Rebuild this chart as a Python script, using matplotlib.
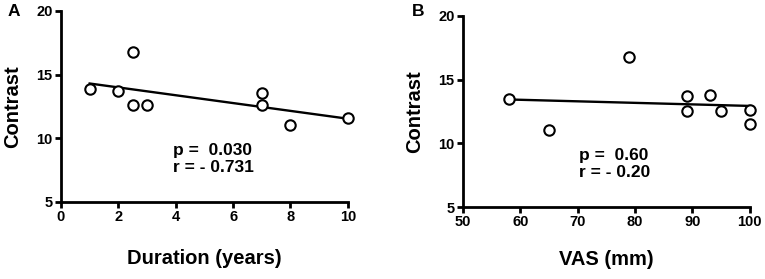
import numpy as np
import matplotlib
matplotlib.use("Agg")
import matplotlib.pyplot as plt

plt.rcParams['font.family'] = ['Liberation Sans', 'DejaVu Sans']
plt.rcParams['font.weight'] = 'bold'

# Panel A data
duration_years = [1, 2, 2.5, 2.5, 3, 7, 7, 8, 10]
contrast_a = [13.84, 13.7, 16.8, 12.58, 12.58, 13.52, 12.6, 11.08, 11.56]
# Panel B data
vas_mm = [58, 65, 79, 89, 89, 93, 95, 100, 100]
contrast_b = [13.46, 11.06, 16.77, 13.68, 12.55, 13.8, 12.55, 12.6, 11.53]

stats_a = "p =  0.030\nr = - 0.731"
stats_b = "p =  0.60\nr = - 0.20"

fig = plt.figure(figsize=(7.65, 2.79), dpi=100)
axA = fig.add_axes([0.0797, 0.276, 0.375, 0.685])
axB = fig.add_axes([0.605, 0.258, 0.375, 0.685])


def style(ax, xlim, xticks):
    ax.set_xlim(*xlim)
    ax.set_ylim(5, 20)
    ax.set_xticks(xticks)
    ax.set_yticks([5, 10, 15, 20])
    for s in ['top', 'right']:
        ax.spines[s].set_visible(False)
    for s in ['left', 'bottom']:
        ax.spines[s].set_linewidth(2.0)
    ax.tick_params(direction='out', length=4, width=2.0, labelsize=10.5, pad=2)
    for lab in ax.get_xticklabels() + ax.get_yticklabels():
        lab.set_fontweight('bold')
    ax.set_ylabel('Contrast', fontsize=14.5, fontweight='bold', labelpad=10)


def panel(ax, x, y, xlim, xticks, xlabel, stats, tx, ty, xpad):
    style(ax, xlim, xticks)
    x = np.array(x, float)
    y = np.array(y, float)
    m, b = np.polyfit(x, y, 1)
    xs = np.array([x.min(), x.max()])
    ax.plot(xs, m * xs + b, color='black', lw=1.7, clip_on=False, zorder=2)
    ax.plot(x, y, 'o', mfc='white', mec='black', ms=7.5, mew=1.5,
            clip_on=False, zorder=3)
    ax.set_xlabel(xlabel, fontsize=14.5, fontweight='bold', labelpad=xpad)
    ax.text(tx, ty, stats, transform=ax.transAxes, fontsize=12.5,
            fontweight='bold', ha='left', va='top', linespacing=1.2)


panel(axA, duration_years, contrast_a, (0, 10), [0, 2, 4, 6, 8, 10],
      'Duration (years)', stats_a, 0.39, 0.31, 18)
panel(axB, vas_mm, contrast_b, (50, 100), [50, 60, 70, 80, 90, 100],
      'VAS (mm)', stats_b, 0.404, 0.31, 15)

fig.text(0.010, 0.985, 'A', fontsize=12.5, fontweight='bold', va='top', ha='left')
fig.text(0.538, 0.985, 'B', fontsize=12.5, fontweight='bold', va='top', ha='left')

fig.savefig('out.png', dpi=100)
